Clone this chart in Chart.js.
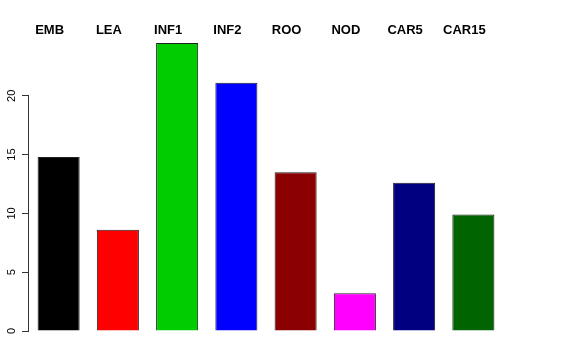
<!DOCTYPE html>
<html>
<head>
<meta charset="utf-8">
<script src="https://cdn.jsdelivr.net/npm/chart.js@4"></script>
<style>
  html, body { margin: 0; padding: 0; background: #fff; }
  #wrap { width: 576px; height: 360px; }
</style>
</head>
<body>
<div id="wrap"><canvas id="chart" width="576" height="360"></canvas></div>
<script>
const categories = ['EMB', 'LEA', 'INF1', 'INF2', 'ROO', 'NOD', 'CAR5', 'CAR15'];
const values = [14.8, 8.6, 24.5, 21.1, 13.5, 3.2, 12.6, 9.9];
const barColors = ['#000000', '#ff0000', '#00cd00', '#0000ff', '#8b0000', '#ff00ff', '#000080', '#006400'];
const yTicks = [0, 5, 10, 15, 20];

// R-style axis: line spanning first to last tick, labels rotated and centred on ticks,
// plus the bold category names along the top
const rAxes = {
    id: 'rAxes',
    afterDraw(chart) {
        const ctx = chart.ctx;
        const y = chart.scales.y;
        const xs = chart.scales.x;
        const x = chart.chartArea.left - 0.5;
        ctx.save();
        ctx.strokeStyle = '#333';
        ctx.lineWidth = 1;
        ctx.beginPath();
        ctx.moveTo(x, y.getPixelForValue(yTicks[0]));
        ctx.lineTo(x, y.getPixelForValue(yTicks[yTicks.length - 1]));
        ctx.stroke();

        ctx.fillStyle = '#000';
        ctx.font = '11px "Liberation Sans"';
        ctx.textAlign = 'center';
        ctx.textBaseline = 'middle';
        yTicks.forEach(v => {
            ctx.save();
            ctx.translate(12, y.getPixelForValue(v));
            ctx.rotate(-Math.PI / 2);
            ctx.fillText(String(v), 0, 0);
            ctx.restore();
        });

        ctx.font = 'bold 13px "Liberation Sans"';
        categories.forEach((c, i) => {
            ctx.fillText(c, xs.getPixelForValue(i) - 9, 30);
        });
        ctx.restore();
    }
};

new Chart(document.getElementById('chart').getContext('2d'), {
    type: 'bar',
    data: {
        labels: categories,
        datasets: [{
            data: values,
            backgroundColor: barColors,
            borderColor: '#222',
            borderWidth: 1,
            barPercentage: 0.71,
            categoryPercentage: 1
        }]
    },
    options: {
        responsive: false,
        animation: false,
        layout: { padding: { top: 37, right: 73, bottom: 29, left: 0 } },
        plugins: { legend: { display: false }, tooltip: { enabled: false } },
        scales: {
            x: { display: false },
            y: {
                min: 0,
                max: 25,
                afterBuildTicks: axis => { axis.ticks = yTicks.map(v => ({ value: v })); },
                afterFit: axis => { axis.width = 29; },
                grid: { drawOnChartArea: false, tickLength: 7, color: '#333' },
                border: { display: false },
                ticks: { display: false }
            }
        }
    },
    plugins: [rAxes]
});
</script>
</body>
</html>
